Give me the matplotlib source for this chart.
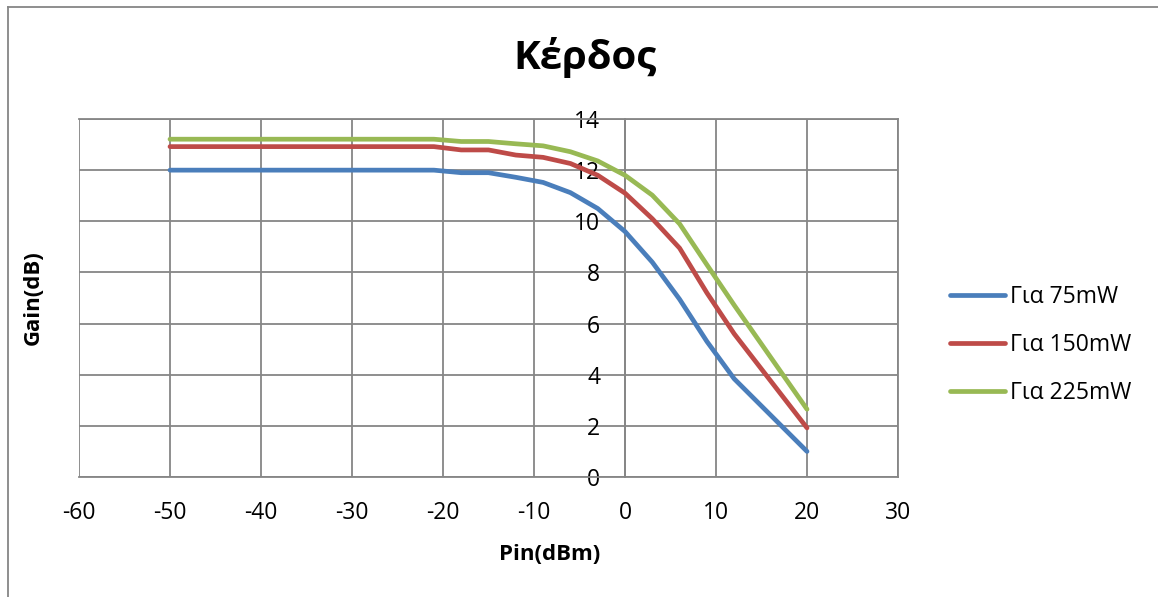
import numpy as np
import matplotlib.pyplot as plt
from matplotlib.lines import Line2D

# Pin sweep (dBm) and gain per pump power (dB)
pin = [-50, -21, -18, -15, -12, -9, -6, -3, 0, 3, 6, 9, 12, 20]
gain_75 = [12.0, 12.0, 11.9, 11.9, 11.72, 11.52, 11.12, 10.5, 9.6, 8.4, 6.95, 5.3, 3.84, 1.0]
gain_150 = [12.92, 12.92, 12.79, 12.79, 12.59, 12.5, 12.26, 11.8, 11.1, 10.1, 8.95, 7.2, 5.6, 1.92]
gain_225 = [13.21, 13.21, 13.12, 13.12, 13.03, 12.95, 12.72, 12.36, 11.8, 11.02, 9.9, 8.3, 6.72, 2.65]
labels = ['Για 75mW', 'Για 150mW', 'Για 225mW']
colors = ['#4A7EBB', '#BE4B48', '#98B954']

xticks = np.arange(-60, 31, 10)
yticks = np.arange(0, 15, 2)

plt.rcParams['font.family'] = ['Open Sans', 'Noto Sans', 'DejaVu Sans']
plt.rcParams['axes.unicode_minus'] = False
grid_c = '#868686'

fig = plt.figure(figsize=(11.58, 5.97), dpi=100)
ax = fig.add_axes([79 / 1158, 1 - 477 / 597, 819 / 1158, 358 / 597])

for g, lab, c in zip([gain_75, gain_150, gain_225], labels, colors):
    ax.plot(pin, g, color=c, lw=3.4, label=lab, solid_capstyle='round', zorder=3)

ax.set_xlim(-60, 30)
ax.set_ylim(0, 14)
ax.set_xticks(xticks)
ax.set_yticks(yticks)
ax.grid(True, color=grid_c, lw=1.3)
ax.set_axisbelow(True)

for s in ax.spines.values():
    s.set_color(grid_c)
    s.set_linewidth(1.3)
ax.spines['left'].set_position(('data', 0))
ax.spines['left'].set_zorder(1)

ax.tick_params(axis='both', length=0, labelsize=16.5)
ax.tick_params(axis='x', pad=17)
ax.tick_params(axis='y', pad=18)
for t in ax.get_yticklabels():
    t.set_zorder(4)

fig.text(585 / 1158, 1 - 57 / 597, 'Κέρδος', ha='center', va='center',
         fontsize=29, fontweight='bold')
fig.text(550 / 1158, 1 - 554 / 597, 'Pin(dBm)', ha='center', va='center',
         fontsize=16, fontweight='bold')
fig.text(33 / 1158, 1 - 298 / 597, 'Gain(dB)', ha='center', va='center',
         rotation=90, fontsize=16, fontweight='bold')

ax.legend(loc='center left', bbox_to_anchor=(950 / 1158, 1 - 345 / 597),
          bbox_transform=fig.transFigure, frameon=False, fontsize=16.5,
          handlelength=2.4, handletextpad=0.22, labelspacing=1.05,
          borderpad=0, borderaxespad=0)

# chart area frame (top and left edges)
fig.add_artist(Line2D([8 / 1158, 8 / 1158], [0, 1 - 7 / 597],
                      transform=fig.transFigure, color=grid_c, lw=1.3))
fig.add_artist(Line2D([8 / 1158, 1], [1 - 7 / 597, 1 - 7 / 597],
                      transform=fig.transFigure, color=grid_c, lw=1.3))

fig.savefig('out.png', dpi=100, facecolor='white')
